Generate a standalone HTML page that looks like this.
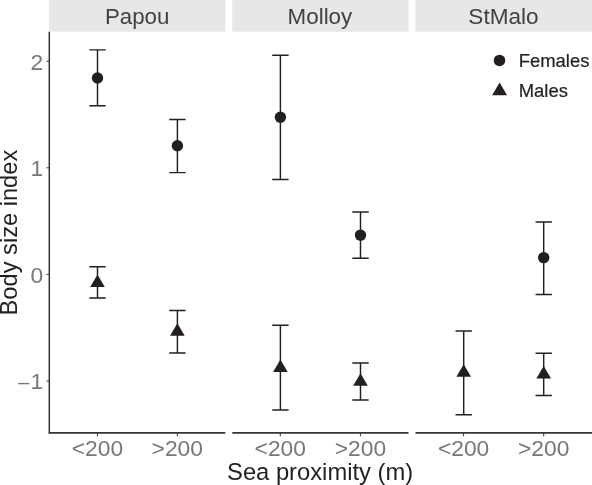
<!DOCTYPE html>
<html><head><meta charset="utf-8"><title>Body size index</title>
<style>
html,body{margin:0;padding:0;background:#fff;}
body{width:592px;height:485px;overflow:hidden;}
svg{display:block;font-family:"Liberation Sans",Arial,Helvetica,sans-serif;}
</style></head><body>
<svg width="592" height="485" viewBox="0 0 592 485">
<rect width="592" height="485" fill="#fff"/>
<rect x="48.85" y="0" width="176.45" height="31.7" fill="#e6e7e8"/>
<text x="137.18" y="23.8" font-size="22.25" text-anchor="middle" fill="#414042">Papou</text>
<line x1="48.85" y1="432.9" x2="225.3" y2="432.9" stroke="#363636" stroke-width="1.65"/>
<rect x="232.3" y="0" width="176.2" height="31.7" fill="#e6e7e8"/>
<text x="319.9" y="23.8" font-size="22.4" text-anchor="middle" fill="#414042">Molloy</text>
<line x1="232.3" y1="432.9" x2="408.5" y2="432.9" stroke="#363636" stroke-width="1.65"/>
<rect x="415.5" y="0" width="176.5" height="31.7" fill="#e6e7e8"/>
<text x="503.45" y="23.8" font-size="22.55" text-anchor="middle" fill="#414042">StMalo</text>
<line x1="415.5" y1="432.9" x2="592" y2="432.9" stroke="#363636" stroke-width="1.65"/>
<line x1="49.3" y1="31.7" x2="49.3" y2="433.7" stroke="#363636" stroke-width="1.5"/>
<line x1="46.5" y1="61.3" x2="49" y2="61.3" stroke="#363636" stroke-width="1"/>
<text x="43.1" y="69.65" font-size="22.8" text-anchor="end" fill="#777779">2</text>
<line x1="46.5" y1="167.8" x2="49" y2="167.8" stroke="#363636" stroke-width="1"/>
<text x="43.1" y="176.15" font-size="22.8" text-anchor="end" fill="#777779">1</text>
<line x1="46.5" y1="274.4" x2="49" y2="274.4" stroke="#363636" stroke-width="1"/>
<text x="43.1" y="282.75" font-size="22.8" text-anchor="end" fill="#777779">0</text>
<line x1="46.5" y1="381.1" x2="49" y2="381.1" stroke="#363636" stroke-width="1"/>
<text x="43.1" y="389.45" font-size="22.8" text-anchor="end" fill="#777779"><tspan font-size="20" dy="-0.4">–</tspan><tspan dx="1" dy="0.4">1</tspan></text>
<line x1="97.4" y1="433" x2="97.4" y2="436.3" stroke="#363636" stroke-width="1"/>
<text x="97.4" y="455.6" font-size="22.8" text-anchor="middle" fill="#777779">&lt;200</text>
<line x1="177.3" y1="433" x2="177.3" y2="436.3" stroke="#363636" stroke-width="1"/>
<text x="177.3" y="455.6" font-size="22.8" text-anchor="middle" fill="#777779">&gt;200</text>
<line x1="280.3" y1="433" x2="280.3" y2="436.3" stroke="#363636" stroke-width="1"/>
<text x="280.3" y="455.6" font-size="22.8" text-anchor="middle" fill="#777779">&lt;200</text>
<line x1="360.4" y1="433" x2="360.4" y2="436.3" stroke="#363636" stroke-width="1"/>
<text x="360.4" y="455.6" font-size="22.8" text-anchor="middle" fill="#777779">&gt;200</text>
<line x1="463.6" y1="433" x2="463.6" y2="436.3" stroke="#363636" stroke-width="1"/>
<text x="463.6" y="455.6" font-size="22.8" text-anchor="middle" fill="#777779">&lt;200</text>
<line x1="543.7" y1="433" x2="543.7" y2="436.3" stroke="#363636" stroke-width="1"/>
<text x="543.7" y="455.6" font-size="22.8" text-anchor="middle" fill="#777779">&gt;200</text>
<text x="320.1" y="479.9" font-size="23.75" text-anchor="middle" fill="#231f20">Sea proximity (m)</text>
<text transform="translate(16.7,232.6) rotate(-90)" font-size="23.67" text-anchor="middle" fill="#231f20">Body size index</text>
<path d="M89.3 49.85H105.7M89.3 105.8H105.7M97.5 49.85V105.8" stroke="#231f20" stroke-width="1.45" fill="none"/>
<circle cx="97.5" cy="78" r="5.7" fill="#231f20"/>
<path d="M169.20000000000002 119.45H185.6M169.20000000000002 172.6H185.6M177.4 119.45V172.6" stroke="#231f20" stroke-width="1.45" fill="none"/>
<circle cx="177.4" cy="145.8" r="5.7" fill="#231f20"/>
<path d="M89.3 266.8H105.7M89.3 298H105.7M97.5 266.8V298" stroke="#231f20" stroke-width="1.45" fill="none"/>
<path d="M97.5 274.4L104.8 286.9H90.2Z" fill="#231f20"/>
<path d="M169.20000000000002 310.45H185.6M169.20000000000002 352.95H185.6M177.4 310.45V352.95" stroke="#231f20" stroke-width="1.45" fill="none"/>
<path d="M177.4 323.3L184.70000000000002 335.8H170.1Z" fill="#231f20"/>
<path d="M272.2 55.3H288.59999999999997M272.2 179.4H288.59999999999997M280.4 55.3V179.4" stroke="#231f20" stroke-width="1.45" fill="none"/>
<circle cx="280.4" cy="117.3" r="5.7" fill="#231f20"/>
<path d="M352.3 211.95H368.7M352.3 258.3H368.7M360.5 211.95V258.3" stroke="#231f20" stroke-width="1.45" fill="none"/>
<circle cx="360.5" cy="235.1" r="5.7" fill="#231f20"/>
<path d="M272.2 325.25H288.59999999999997M272.2 410H288.59999999999997M280.4 325.25V410" stroke="#231f20" stroke-width="1.45" fill="none"/>
<path d="M280.4 359.5L287.7 372H273.09999999999997Z" fill="#231f20"/>
<path d="M352.3 363H368.7M352.3 400H368.7M360.5 363V400" stroke="#231f20" stroke-width="1.45" fill="none"/>
<path d="M360.5 373.3L367.8 385.8H353.2Z" fill="#231f20"/>
<path d="M455.5 330.9H471.9M455.5 414.7H471.9M463.7 330.9V414.7" stroke="#231f20" stroke-width="1.45" fill="none"/>
<path d="M463.7 364.3L471.0 376.8H456.4Z" fill="#231f20"/>
<path d="M535.5 222H551.9000000000001M535.5 294.5H551.9000000000001M543.7 222V294.5" stroke="#231f20" stroke-width="1.45" fill="none"/>
<circle cx="543.7" cy="257.6" r="5.7" fill="#231f20"/>
<path d="M535.5 353.2H551.9000000000001M535.5 395.5H551.9000000000001M543.7 353.2V395.5" stroke="#231f20" stroke-width="1.45" fill="none"/>
<path d="M543.7 365.9L551.0 378.4H536.4000000000001Z" fill="#231f20"/>
<circle cx="499.5" cy="60.4" r="5.75" fill="#231f20"/>
<path d="M499.6 82.5L507.05 95.3H492.15Z" fill="#231f20"/>
<text x="518.7" y="67" font-size="18.45" fill="#231f20" stroke="#231f20" stroke-width="0.2">Females</text>
<text x="518.7" y="97.4" font-size="18.45" fill="#231f20" stroke="#231f20" stroke-width="0.2">Males</text>
</svg></body></html>
